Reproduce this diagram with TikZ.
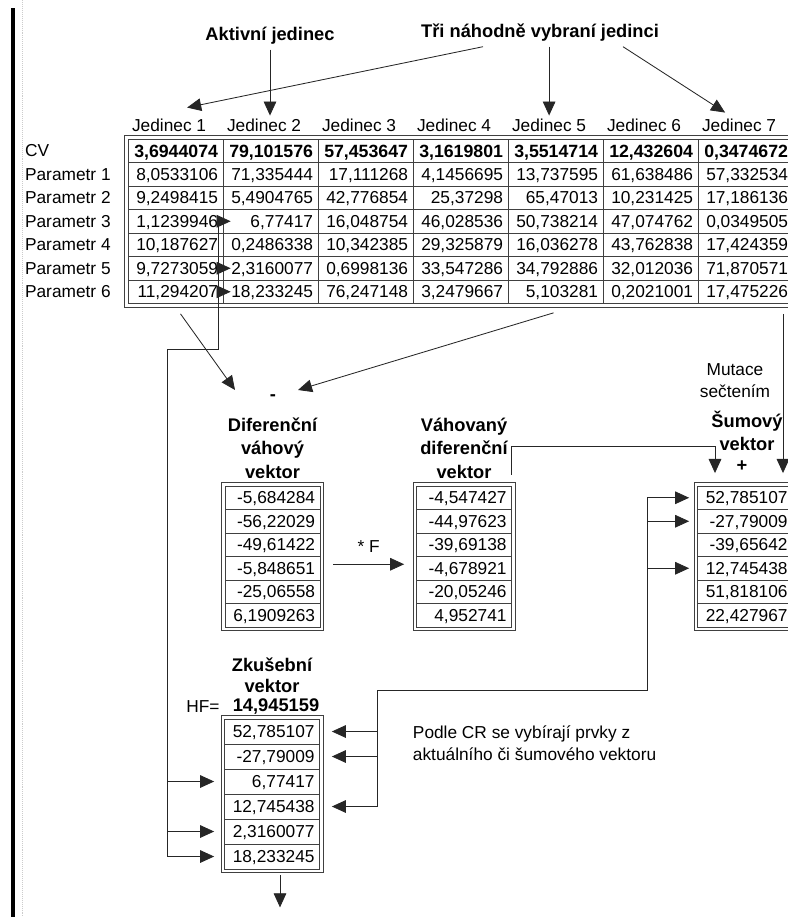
\documentclass[tikz,border=0pt]{standalone}
\usepackage{fontspec}
\setmainfont{Liberation Sans}
\usetikzlibrary{arrows.meta}

\begin{document}
\begin{tikzpicture}[x=0.025cm, y=-0.025cm,
    txt/.style={font=\fontsize{12.3}{15.6}\selectfont},
    ttl/.style={font=\fontsize{13}{16.7}\selectfont\bfseries, align=center},
    cell/.style={draw=black!75, line width=0.5pt, txt, text width=2.125cm,
      inner xsep=0.125cm, inner ysep=0pt, align=right, minimum height=0.5875cm,
      text height=8.8pt, text depth=0pt},
    frame/.style={draw=black!75, line width=0.5pt},
    conn/.style={draw=black!85, line width=0.6pt},
    arr/.style={conn, -{Triangle[length=10pt,width=9pt]}}]
    \clip (0,0) rectangle (788,917);

    % page edge
    \draw[line width=2.2pt] (13,8) -- (13,917);
    \draw[gray!40, densely dotted] (22,0) -- (22,917);

    % titles on top
    \node[ttl] (aktiv) at (270,36) {Aktivní jedinec};
    \node[ttl] (tri) at (540,33) {Tři náhodně vybraní jedinci};

    % population table
    \foreach \c in {1,...,7}
        \node[txt, anchor=west, inner sep=2pt] (j\c) at ({129+95*(\c-1)},125) {Jedinec \c};
    \foreach \r/\lab in {0/CV, 1/Parametr 1, 2/Parametr 2, 3/Parametr 3, 4/Parametr 4, 5/Parametr 5, 6/Parametr 6}
        \node[txt, anchor=west, inner sep=2pt] (p\r) at (22,{150.75+23.5*\r}) {\lab};

    \foreach \v [count=\c] in {{3,6944074},{79,101576},{57,453647},{3,1619801},{3,5514714},{12,432604},{0,3474672}}
        \node[cell, font=\fontsize{12.6}{15}\selectfont\bfseries, text height=9.1pt] (c\c-0) at ({80.5+95*\c},150.75) {\v};
    \foreach \v [count=\c] in {{8,0533106},{71,335444},{17,111268},{4,1456695},{13,737595},{61,638486},{57,332534}}
        \node[cell] (c\c-1) at ({80.5+95*\c},174.25) {\v};
    \foreach \v [count=\c] in {{9,2498415},{5,4904765},{42,776854},{25,37298},{65,47013},{10,231425},{17,186136}}
        \node[cell] (c\c-2) at ({80.5+95*\c},197.75) {\v};
    \foreach \v [count=\c] in {{1,1239946},{6,77417},{16,048754},{46,028536},{50,738214},{47,074762},{0,0349505}}
        \node[cell] (c\c-3) at ({80.5+95*\c},221.25) {\v};
    \foreach \v [count=\c] in {{10,187627},{0,2486338},{10,342385},{29,325879},{16,036278},{43,762838},{17,424359}}
        \node[cell] (c\c-4) at ({80.5+95*\c},244.75) {\v};
    \foreach \v [count=\c] in {{9,7273059},{2,3160077},{0,6998136},{33,547286},{34,792886},{32,012036},{71,870571}}
        \node[cell] (c\c-5) at ({80.5+95*\c},268.25) {\v};
    \foreach \v [count=\c] in {{11,294207},{18,233245},{76,247148},{3,2479667},{5,103281},{0,2021001},{17,475226}}
        \node[cell] (c\c-6) at ({80.5+95*\c},291.75) {\v};
    \draw[frame] ([shift={(-3,-3)}]c1-0.north west) rectangle ([shift={(3,3)}]c7-6.south east);

    % choice of individuals
    \draw[arr] (aktiv.south) -- (aktiv.south |- j2.north);
    \coordinate (tri-l) at ([shift={(-57,0)}]tri.south);
    \coordinate (tri-r) at ([shift={(83,0)}]tri.south);
    \draw[arr] (tri-l) -- ([shift={(18,-8)}]j1.north);
    \draw[arr] (tri.south -| j5.north) -- (j5.north);
    \draw[arr] (tri-r) -- ([shift={(-14,-3)}]j7.north);

    % difference
    \node[font=\fontsize{13}{15}\selectfont\bfseries] (minus) at (273,398) {-};
    \draw[arr] ([shift={(5,10)}]c1-6.south) -- ([shift={(-38,-8)}]minus.center);
    \draw[arr] ([shift={(-2,9)}]c5-6.south) -- ([shift={(25,-8)}]minus.center);

    \node[ttl] (dtit) at (272.5,448) {Diferenční\\váhový\\vektor};
    \foreach \v [count=\i] in {{-5,684284},{-56,22029},{-49,61422},{-5,848651},{-25,06558},{6,1909263}}
        \node[cell] (d\i) at (272.5,{474.25+23.5*\i}) {\v};
    \draw[frame] ([shift={(-3,-3)}]d1.north west) rectangle ([shift={(3,3)}]d6.south east);

    % weighted difference
    \node[ttl] (wtit) at (464,448) {Váhovaný\\diferenční\\vektor};
    \foreach \v [count=\i] in {{-4,547427},{-44,97623},{-39,69138},{-4,678921},{-20,05246},{4,952741}}
        \node[cell] (w\i) at (464,{474.25+23.5*\i}) {\v};
    \draw[frame] ([shift={(-3,-3)}]w1.north west) rectangle ([shift={(3,3)}]w6.south east);
    \draw[arr] ([shift={(13,-4)}]d4.east) -- node[txt, above=5pt] (fmul) {* F} ([shift={(-12,-4)}]w4.west);

    % noise vector
    \node[txt, align=center] (mtit) at (735,381) {Mutace\\sečtením};
    \node[ttl, font=\fontsize{13}{16.5}\selectfont\bfseries] (stit) at (747,431) {Šumový\\vektor};
    \node[font=\fontsize{13}{15}\selectfont\bfseries, inner sep=1pt] (plus) at (742,466) {+};
    \foreach \v [count=\i] in {{52,785107},{-27,79009},{-39,65642},{12,745438},{51,818106},{22,427967}}
        \node[cell] (s\i) at (745,{474.25+23.5*\i}) {\v};
    \draw[frame] ([shift={(-3,-3)}]s1.north west) rectangle ([shift={(3,3)}]s6.south east);

    \coordinate (wout) at ([shift={(0,-11)}]w1.north east);
    \coordinate (bend5) at (715,446);
    \draw[arr] (wout) |- (bend5) -- (bend5 |- plus.south);
    \coordinate (mut) at ([shift={(37.5,10)}]c7-6.south);
    \draw[arr] (mut) -- (mut |- plus.south);

    % trial vector
    \node[ttl, font=\fontsize{13}{15}\selectfont\bfseries] (ztit) at (272,675) {Zkušební\\vektor};
    \node[txt] (hf) at (203,707) {HF=};
    \node[font=\fontsize{13}{15}\selectfont\bfseries] (hfval) at (276,707) {14,945159};
    \foreach \v [count=\i] in {{52,785107},{-27,79009},{6,77417},{12,745438},{2,3160077},{18,233245}}
        \node[cell, minimum height=0.625cm] (z\i) at (272,{706.5+25*\i}) {\v};
    \draw[frame] ([shift={(-3,-3)}]z1.north west) rectangle ([shift={(3,3)}]z6.south east);
    \draw[arr] ([shift={(8,6)}]z6.south) -- ++(0,32);

    % elements taken from the active individual
    \coordinate (bend1) at (218,349);
    \coordinate (bend2) at (167,349);
    \draw[conn] (bend1 |- c2-3.west) -- (bend1) -- (bend2) -- (bend2 |- z6.west);
    \foreach \r in {3,5,6}
        \draw[arr] (bend1 |- c2-\r.west) -- ([shift={(8,0)}]c2-\r.west);
    \foreach \i in {3,5,6}
        \draw[arr] (bend2 |- z\i.west) -- ([shift={(-10,0)}]z\i.west);

    % elements taken from the noise vector
    \coordinate (bend3) at (377,690);
    \coordinate (bend4) at (647,690);
    \draw[conn] (bend3 |- z4.east) -- (bend3) -- (bend4) -- (bend4 |- s1.west);
    \foreach \i in {1,2,4}
        \draw[arr] (bend3 |- z\i.east) -- ([shift={(12,0)}]z\i.east);
    \foreach \i in {1,2,4}
        \draw[arr] (bend4 |- s\i.west) -- ([shift={(-8,0)}]s\i.west);

    \node[txt, anchor=west, align=left] (note) at (408,743)
        {Podle CR se vybírají prvky z\\aktuálního či šumového vektoru};
\end{tikzpicture}
\end{document}
